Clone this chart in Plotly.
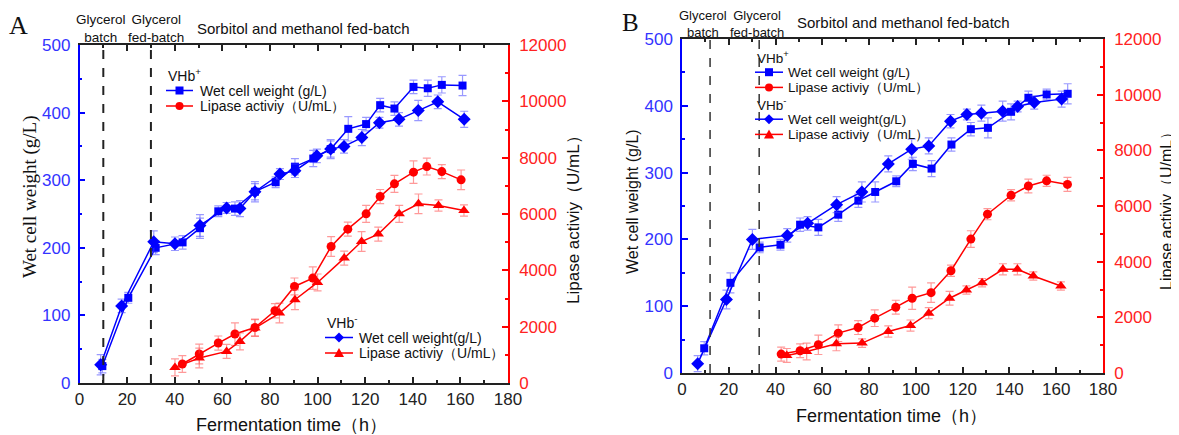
import plotly.graph_objects as go

W, H = 1179, 435
OFF = 8  # page body margin: page pixel (X, Y) sits at figure pixel (X-8, Y-8)

# ---------------- Panel A data ----------------
a_plus_wcw_t = [9.6, 20.5, 32, 43.3, 50.6, 58.3, 65.3, 73.7, 82.4, 90.5, 98.2, 105.5, 112.9, 120.4, 126.3, 132.3, 140.3, 146.3, 152.2, 160.9]
a_plus_wcw = [25, 126, 200, 208, 229, 254, 258, 283, 297, 320, 332, 346, 376, 383, 411, 406, 438, 436, 441, 440]
a_plus_wcw_err = [10, 8, 10, 10, 15, 8, 10, 15, 8, 12, 12, 14, 18, 10, 10, 10, 10, 12, 12, 15]

a_minus_wcw_t = [8.9, 17.7, 31.2, 40.1, 50.6, 61.8, 67.4, 73.7, 84.2, 90.5, 99.7, 105.5, 111.1, 118.6, 126.0, 134.2, 142.3, 150.5, 161.6]
a_minus_wcw = [27, 114, 209, 206, 233, 259, 258, 283, 309, 314, 336, 346, 350, 363, 385, 390, 403, 416, 390]
a_minus_wcw_err = [15, 10, 16, 10, 16, 8, 12, 12, 8, 10, 10, 12, 10, 12, 8, 10, 15, 10, 12]

a_plus_lip_t = [43.2, 50.3, 58.3, 65.3, 73.7, 82.1, 90.3, 98.0, 105.7, 112.7, 120.4, 126.3, 132.3, 140.3, 145.9, 152.2, 160.3]
a_plus_lip = [674, 1029, 1419, 1738, 1972, 2565, 3427, 3725, 4846, 5463, 6006, 6620, 7070, 7485, 7684, 7506, 7212]
a_plus_lip_err = [300, 350, 250, 400, 300, 250, 300, 400, 350, 250, 300, 250, 300, 400, 300, 250, 350]

a_minus_lip_t = [40.1, 50.3, 61.8, 67.4, 73.7, 84.0, 90.5, 100.0, 111.2, 118.5, 125.5, 134.3, 142.4, 150.8, 161.5]
a_minus_lip = [553, 887, 1121, 1476, 1951, 2483, 2955, 3569, 4434, 5023, 5286, 6006, 6360, 6300, 6123]
a_minus_lip_err = [300, 350, 250, 300, 300, 350, 350, 300, 250, 350, 250, 300, 350, 200, 200]

a_phase_bounds = [10, 30]

# ---------------- Panel B data ----------------
b_plus_wcw_t = [9.5, 20.7, 33.2, 42.1, 50.5, 58.3, 66.8, 75.4, 82.6, 91.6, 98.7, 106.7, 115.2, 123.5, 130.8, 140.7, 148.1, 155.9, 164.9]
b_plus_wcw = [37, 135, 188, 192, 222, 218, 237, 258, 271, 287, 313, 306, 342, 365, 367, 391, 412, 417, 418]
b_plus_wcw_err = [10, 15, 8, 8, 10, 12, 10, 10, 15, 8, 10, 12, 10, 10, 15, 12, 10, 8, 15]

b_minus_wcw_t = [6.7, 19.0, 30.1, 45.0, 53.7, 66.1, 76.9, 88.2, 98.2, 105.5, 114.8, 121.8, 128.0, 137.1, 143.5, 150.6, 162.3]
b_minus_wcw = [14, 110, 200, 206, 224, 252, 271, 313, 335, 340, 377, 387, 389, 392, 399, 405, 410]
b_minus_wcw_err = [12, 14, 15, 10, 10, 12, 15, 12, 15, 12, 10, 8, 12, 15, 8, 10, 12]

b_plus_lip_t = [42.4, 50.5, 58.3, 66.8, 75.3, 82.4, 91.4, 98.4, 106.5, 115.0, 123.5, 130.6, 140.7, 148.1, 155.9, 164.8]
b_plus_lip = [680, 799, 1014, 1432, 1633, 1970, 2364, 2686, 2887, 3675, 4810, 5706, 6386, 6719, 6905, 6775]
b_plus_lip_err = [250, 250, 350, 300, 250, 300, 250, 400, 350, 200, 300, 200, 200, 250, 200, 250]

b_minus_lip_t = [44.8, 53.3, 66.0, 77.0, 88.2, 97.7, 105.5, 114.4, 121.6, 128.3, 137.2, 143.4, 150.2, 162.0]
b_minus_lip = [631, 774, 1049, 1074, 1490, 1705, 2149, 2686, 2983, 3245, 3725, 3725, 3485, 3127]
b_minus_lip_err = [250, 300, 250, 150, 200, 200, 200, 250, 150, 150, 200, 200, 150, 150]

b_phase_bounds = [12, 33]

# ---------------- text ----------------
wcw_name_plus = "Wet cell weight (g/L)"
wcw_name_minus = "Wet cell weight(g/L)"
lip_name = "Lipase activiy（U/mL）"
phase_labels = ["Glycerol<br>batch", "Glycerol<br>fed-batch", "Sorbitol and methanol fed-batch"]
strain_plus = "VHb<sup>+</sup>"
strain_minus = "VHb<sup>-</sup>"

BLUE = "#0000ff"
RED = "#ff0000"
BLUE_ERR = "rgba(70,70,255,0.55)"
RED_ERR = "rgba(255,70,70,0.55)"
SANS = "Liberation Sans, Arial, sans-serif"
SERIF = "Liberation Serif, Times New Roman, serif"


def px(x):
    return (x - OFF) / W


def py(y):
    return 1 - (y - OFF) / H


fig = go.Figure()


def add(t, v, e, color, ecolor, symbol, size, name, xa, ya):
    fig.add_trace(go.Scatter(
        x=t, y=v, mode="lines+markers", name=name,
        line=dict(color=color, width=1.5),
        marker=dict(symbol=symbol, size=size, color=color),
        error_y=dict(type="data", array=e, visible=True, color=ecolor, thickness=1.2, width=4),
        xaxis=xa, yaxis=ya, showlegend=False, cliponaxis=False,
    ))


# Panel A
add(a_plus_wcw_t, a_plus_wcw, a_plus_wcw_err, BLUE, BLUE_ERR, "square", 8, wcw_name_plus, "x", "y")
add(a_plus_lip_t, a_plus_lip, a_plus_lip_err, RED, RED_ERR, "circle", 9, lip_name, "x", "y2")
add(a_minus_wcw_t, a_minus_wcw, a_minus_wcw_err, BLUE, BLUE_ERR, "diamond", 10, wcw_name_minus, "x", "y")
add(a_minus_lip_t, a_minus_lip, a_minus_lip_err, RED, RED_ERR, "triangle-up", 10, lip_name, "x", "y2")
# Panel B
add(b_plus_wcw_t, b_plus_wcw, b_plus_wcw_err, BLUE, BLUE_ERR, "square", 8, wcw_name_plus, "x2", "y3")
add(b_plus_lip_t, b_plus_lip, b_plus_lip_err, RED, RED_ERR, "circle", 9, lip_name, "x2", "y4")
add(b_minus_wcw_t, b_minus_wcw, b_minus_wcw_err, BLUE, BLUE_ERR, "diamond", 10, wcw_name_minus, "x2", "y3")
add(b_minus_lip_t, b_minus_lip, b_minus_lip_err, RED, RED_ERR, "triangle-up", 10, lip_name, "x2", "y4")


def xax(domain, anchor):
    return dict(domain=domain, anchor=anchor, range=[0, 180], dtick=20, tick0=0,
                ticks="inside", ticklen=6, tickwidth=1.5, tickcolor="#222",
                minor=dict(dtick=10, ticks="inside", ticklen=3, tickcolor="#222", showgrid=False),
                showline=True, linecolor="#222", linewidth=1.5, mirror="ticks",
                showgrid=False, zeroline=False, automargin=False,
                tickfont=dict(family=SANS, size=17, color="#222"))


def yleft(domain, anchor):
    return dict(domain=domain, anchor=anchor, range=[0, 500], dtick=100, tick0=0,
                ticks="inside", ticklen=6, tickwidth=1.5, tickcolor=BLUE,
                minor=dict(dtick=50, ticks="inside", ticklen=3, tickcolor=BLUE, showgrid=False),
                showline=True, linecolor=BLUE, linewidth=1.5, ticklabelstandoff=4,
                showgrid=False, zeroline=False, automargin=False,
                tickfont=dict(family=SANS, size=17, color="#3333ff"))


def yright(over, anchor):
    return dict(overlaying=over, anchor=anchor, side="right", range=[0, 12000], dtick=2000, tick0=0,
                tickformat="d",
                ticks="inside", ticklen=6, tickwidth=1.5, tickcolor=RED,
                minor=dict(dtick=1000, ticks="inside", ticklen=3, tickcolor=RED, showgrid=False),
                showline=True, linecolor=RED, linewidth=1.5, ticklabelstandoff=6,
                showgrid=False, zeroline=False, automargin=False,
                tickfont=dict(family=SANS, size=17, color="#ff2222"))


fig.update_layout(
    template="none",
    width=W, height=H, margin=dict(l=0, r=0, t=0, b=0, autoexpand=False),
    paper_bgcolor="white", plot_bgcolor="white",
    xaxis=xax([px(79.5), px(508)], "y"),
    yaxis=yleft([py(383), py(45)], "x"),
    yaxis2=yright("y", "x"),
    xaxis2=xax([px(682), px(1103)], "y3"),
    yaxis3=yleft([py(373), py(39)], "x2"),
    yaxis4=yright("y3", "x2"),
    showlegend=False,
)

# phase boundaries
for b in a_phase_bounds:
    fig.add_shape(type="line", xref="x", yref="y", x0=b, x1=b, y0=0, y1=500,
                  line=dict(color="#222", width=2, dash="dash"))
for b in b_phase_bounds:
    fig.add_shape(type="line", xref="x2", yref="y3", x0=b, x1=b, y0=0, y1=500,
                  line=dict(color="#333", width=1.5, dash="dash"))

annots = []


def T(text, x, y, size, family=SANS, angle=0, xanchor="center"):
    annots.append(dict(text=text, x=px(x), y=py(y), textangle=angle, xanchor=xanchor,
                       font=dict(family=family, size=size, color="#111")))


# ---------------- legend keys (drawn as layout decorations) ----------------
def key_marker(symbol, cx, cy, r, color):
    x0, x1 = px(cx - r), px(cx + r)
    y0, y1 = py(cy + r), py(cy - r)
    if symbol == "square":
        fig.add_shape(type="rect", xref="paper", yref="paper", x0=x0, x1=x1, y0=y0, y1=y1,
                      fillcolor=color, line=dict(width=0))
    elif symbol == "circle":
        fig.add_shape(type="circle", xref="paper", yref="paper", x0=x0, x1=x1, y0=y0, y1=y1,
                      fillcolor=color, line=dict(width=0))
    elif symbol == "diamond":
        p = f"M {px(cx)},{py(cy - r)} L {px(cx + r)},{py(cy)} L {px(cx)},{py(cy + r)} L {px(cx - r)},{py(cy)} Z"
        fig.add_shape(type="path", xref="paper", yref="paper", path=p, fillcolor=color, line=dict(width=0))
    else:
        p = f"M {px(cx)},{py(cy - r)} L {px(cx + r)},{py(cy + r * 0.8)} L {px(cx - r)},{py(cy + r * 0.8)} Z"
        fig.add_shape(type="path", xref="paper", yref="paper", path=p, fillcolor=color, line=dict(width=0))


def legend_block(x0, y_title, dy, title, entries, fs, line_len, gap):
    T(title, x0, y_title, fs, xanchor="left")
    for i, (label, symbol, color) in enumerate(entries):
        y = y_title + (i + 1) * dy
        fig.add_shape(type="line", xref="paper", yref="paper", x0=px(x0), x1=px(x0 + line_len),
                      y0=py(y), y1=py(y), line=dict(color=color, width=1.5))
        r = 4 if symbol in ("square", "circle") else 5
        key_marker(symbol, x0 + line_len / 2, y, r, color)
        T(label, x0 + line_len + gap, y, fs, xanchor="left")


entries_plus = [(wcw_name_plus, "square", BLUE), (lip_name, "circle", RED)]
entries_minus = [(wcw_name_minus, "diamond", BLUE), (lip_name, "triangle-up", RED)]

legend_block(166, 75, 15.5, strain_plus, entries_plus, 14, 27, 5)
legend_block(325, 322, 15.5, strain_minus, entries_minus, 14, 28, 4)
legend_block(755, 57, 15.2, strain_plus, entries_plus, 13.5, 28, 3)
legend_block(755, 104, 15.2, strain_minus, entries_minus, 13.5, 28, 3)

# Panel letters
T("A", 18, 25, 26, family=SERIF)
T("B", 630, 23, 25, family=SERIF)
# phase labels A
T(phase_labels[0], 101, 29, 13.5)
T(phase_labels[1], 156, 29, 13.5)
T(phase_labels[2], 303, 29, 15)
# phase labels B
T(phase_labels[0], 703, 24, 13)
T(phase_labels[1], 757, 24, 13)
T(phase_labels[2], 903, 23, 15)
# axis titles A
T("Wet cell weight (g/L)", 30, 197, 19, family=SERIF, angle=-90)
T("Lipase activiy（U/mL）", 573, 216, 17, angle=-90)
T("Fermentation time（h）", 291, 425, 18)
# axis titles B
T("Wet cell weight (g/L)", 632, 202, 16, angle=-90)
T("Lipase activiy（U/mL）", 1167, 207, 16, angle=-90)
T("Fermentation time（h）", 891, 416, 18)

for a in annots:
    a.update(xref="paper", yref="paper", showarrow=False, yanchor="middle")
    fig.add_annotation(**a)

fig.write_html("out.html")
